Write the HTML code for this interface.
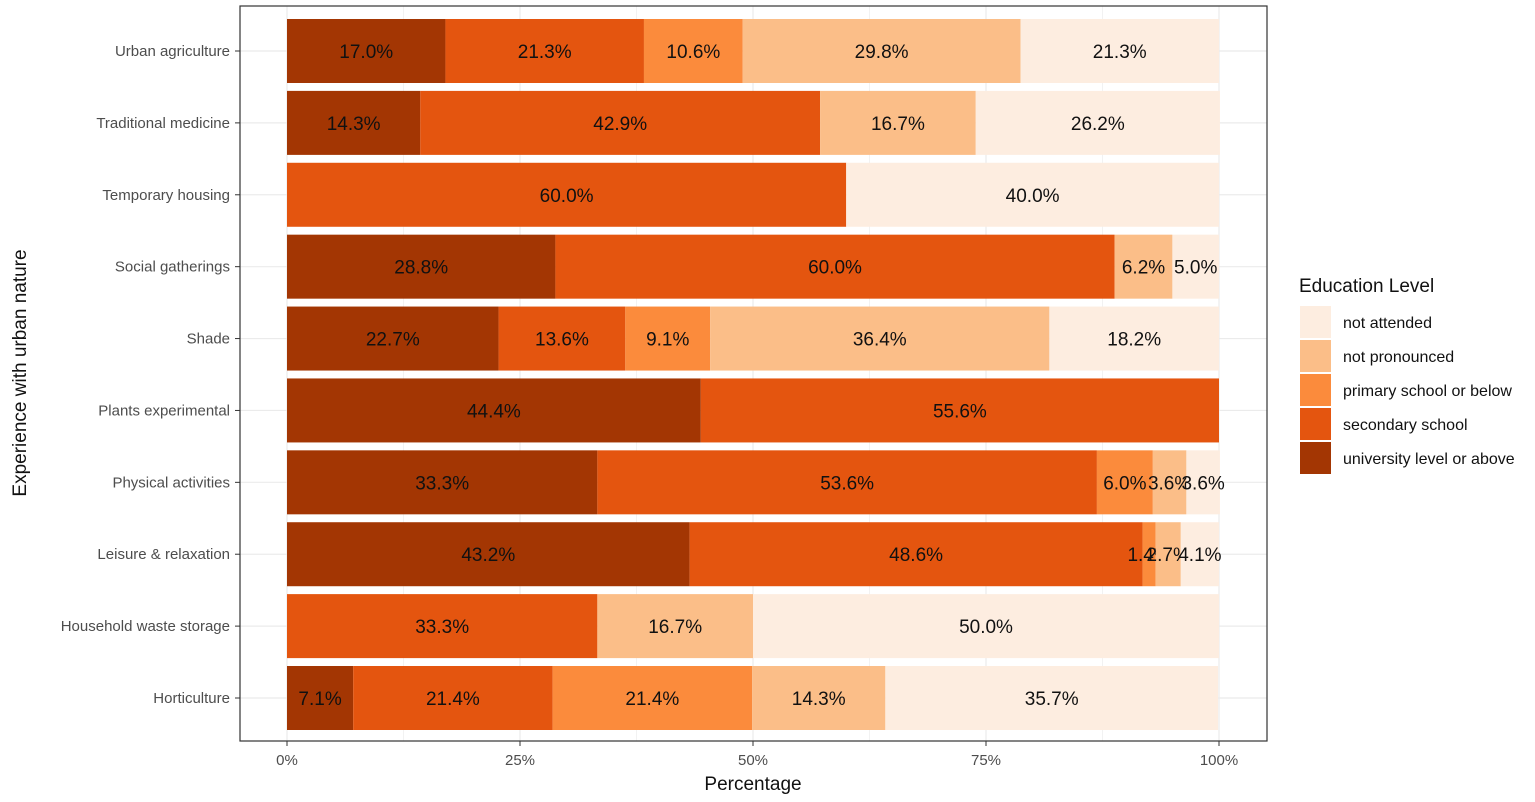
<!DOCTYPE html>
<html><head><meta charset="utf-8"><style>
body{margin:0;background:#fff;}
svg{display:block;font-family:"Liberation Sans",Arial,sans-serif;}
</style></head><body>
<svg id="chart" width="1535" height="802"></svg>
<script>
const categories=["Urban agriculture","Traditional medicine","Temporary housing","Social gatherings","Shade","Plants experimental","Physical activities","Leisure & relaxation","Household waste storage","Horticulture"];
const university=[17.0,14.3,0,28.8,22.7,44.4,33.3,43.2,0,7.1];
const secondary=[21.3,42.9,60.0,60.0,13.6,55.6,53.6,48.6,33.3,21.4];
const primary=[10.6,0,0,0,9.1,0,6.0,1.4,0,21.4];
const notPronounced=[29.8,16.7,0,6.2,36.4,0,3.6,2.7,16.7,14.3];
const notAttended=[21.3,26.2,40.0,5.0,18.2,0,3.6,4.1,50.0,35.7];
const seriesNames=["university level or above","secondary school","primary school or below","not pronounced","not attended"];
const seriesColors=["#A33603","#E4550F","#FB8B3C","#FBBE88","#FDEDE0"];
const xTicks=[0,25,50,75,100];
const xTickLabels=["0%","25%","50%","75%","100%"];

const NS="http://www.w3.org/2000/svg";
const svg=document.getElementById("chart");
function mk(t,a,p){const e=document.createElementNS(NS,t);for(const k in a)e.setAttribute(k,a[k]);(p||svg).appendChild(e);return e;}
const x0=287,x1=1219;
const xs=v=>x0+(x1-x0)*v/100;
const y0=51,step=(698-51)/9,bh=64;
const ys=i=>y0+i*step;

const panel=mk("rect",{x:240,y:6,width:1027,height:735,fill:"#fff"});


// grid
for(let i=0;i<xTicks.length-1;i++){
 const g=mk("line",{x1:xs((xTicks[i]+xTicks[i+1])/2),x2:xs((xTicks[i]+xTicks[i+1])/2),y1:6,y2:741,stroke:"#f2f2f2","stroke-width":1});
 
 
}
xTicks.forEach(t=>{
 const g=mk("line",{x1:xs(t),x2:xs(t),y1:6,y2:741,stroke:"#ebebeb","stroke-width":1.2});
 
 
});
categories.forEach((c,i)=>{
 const g=mk("line",{x1:240,x2:1267,y1:ys(i),y2:ys(i),stroke:"#ebebeb","stroke-width":1.2});
 
 
});
const series=[university,secondary,primary,notPronounced,notAttended];
categories.forEach((c,i)=>{
 let acc=0;
 series.forEach((s,k)=>{
  const v=s[i];
  if(v>0){
   const r=mk("rect",{x:xs(acc),y:ys(i)-bh/2,width:xs(acc+v)-xs(acc),height:bh,fill:seriesColors[k]});
   
   
   const tx=mk("text",{x:xs(acc+v/2),y:ys(i)+7,"text-anchor":"middle","font-size":19,fill:"#111"});
   tx.textContent=v.toFixed(1)+"%";
   
   
  }
  acc+=v;
 });
 const yl=mk("text",{x:230,y:ys(i)+5,"text-anchor":"end","font-size":15,fill:"#4d4d4d"});
 yl.textContent=c;
 
 
 const tk=mk("line",{x1:235,x2:240,y1:ys(i),y2:ys(i),stroke:"#333"});
 
 
});
xTicks.forEach((t,i)=>{
 const tk=mk("line",{x1:xs(t),x2:xs(t),y1:741,y2:746,stroke:"#333"});
 
 
 const l=mk("text",{x:xs(t),y:765,"text-anchor":"middle","font-size":15,fill:"#4d4d4d"});
 l.textContent=xTickLabels[i];
 
 
});
const border=mk("rect",{x:240,y:6,width:1027,height:735,fill:"none",stroke:"#333","stroke-width":1.2});


const xt=mk("text",{x:753,y:790,"text-anchor":"middle","font-size":19,fill:"#111"});
xt.textContent="Percentage";


const yt=mk("text",{x:26,y:373,"text-anchor":"middle","font-size":19,fill:"#111",transform:"rotate(-90 26 373)"});
yt.textContent="Experience with urban nature";


const lt=mk("text",{x:1299,y:292,"font-size":19,fill:"#111"});
lt.textContent="Education Level";


const legOrder=[4,3,2,1,0];
legOrder.forEach((k,j)=>{
 const y=306+j*34;
 const r=mk("rect",{x:1300,y:y,width:31,height:32,fill:seriesColors[k]});
 
 
 const t=mk("text",{x:1343,y:y+22,"font-size":16,fill:"#111"});
 t.textContent=seriesNames[k];
 
 
});
</script>
</body></html>
